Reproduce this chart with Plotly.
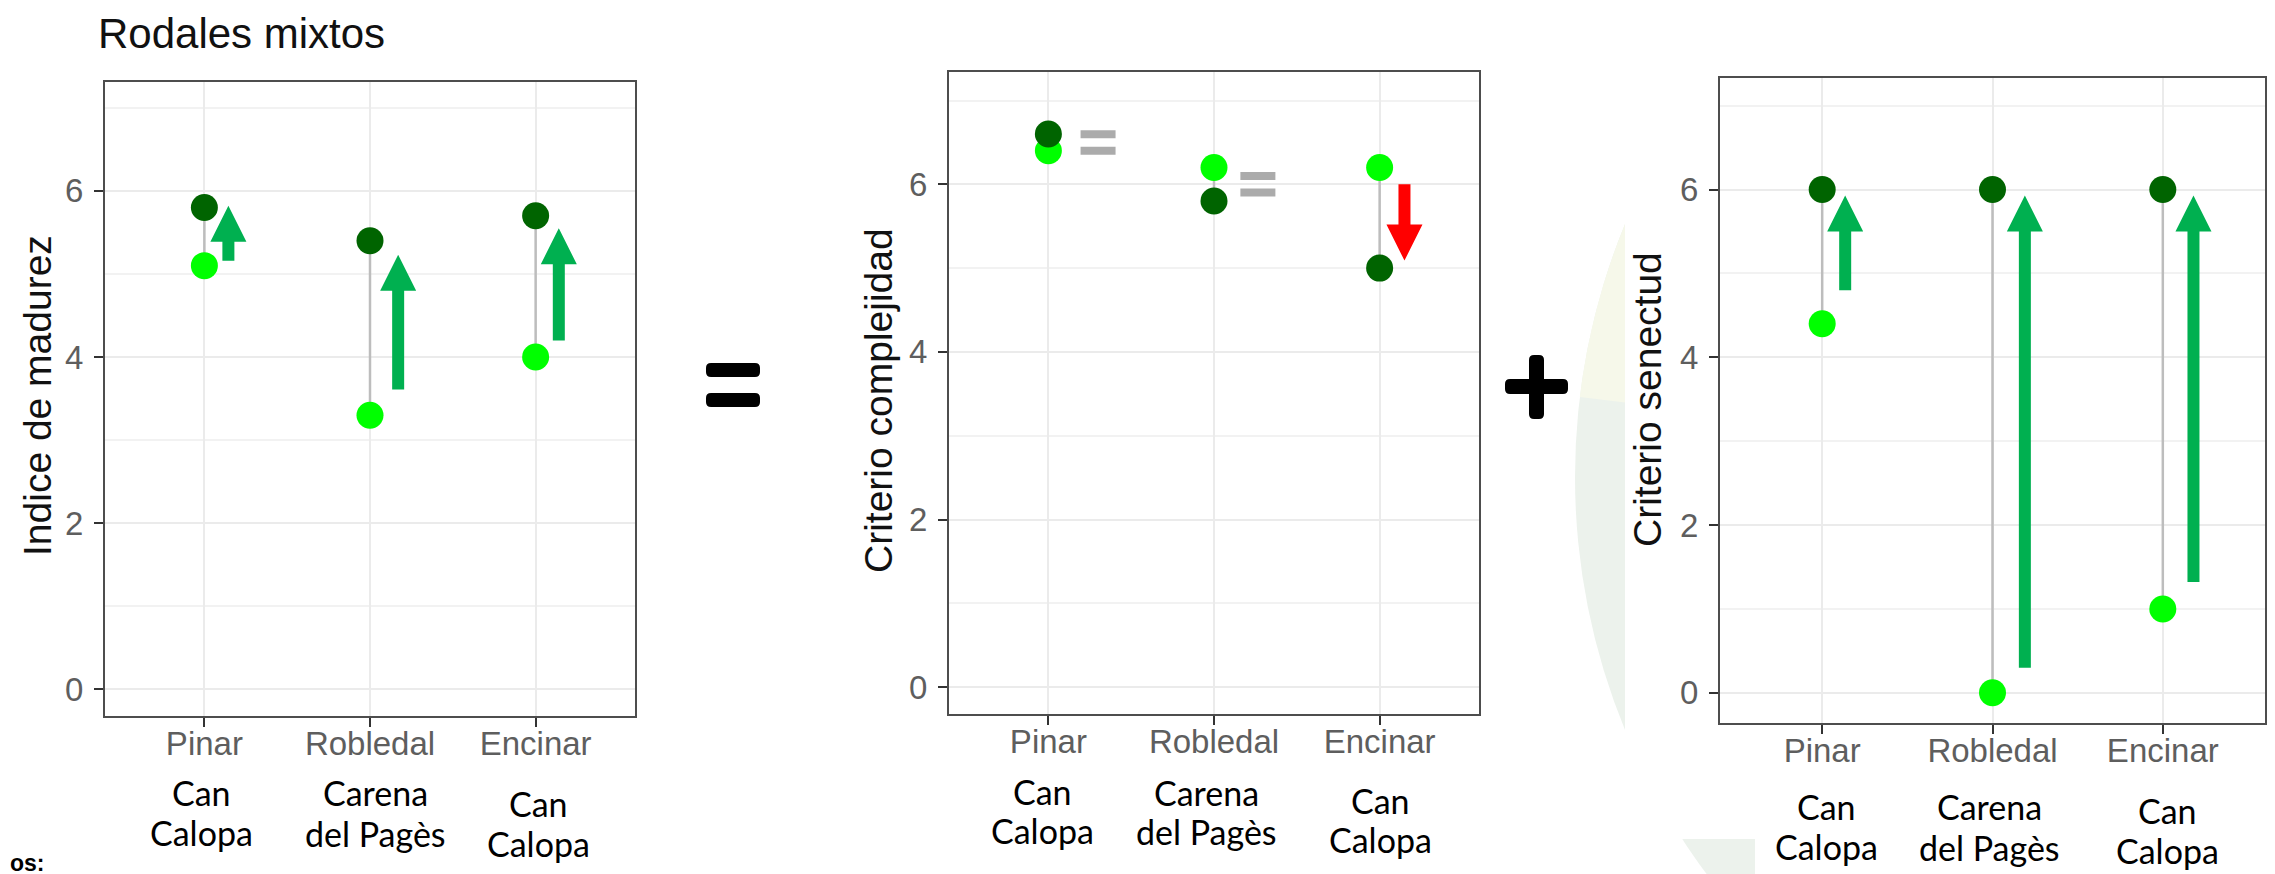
import math
import plotly.graph_objects as go

W, H = 2275, 874

# ---------------- data ----------------
categories = ["Pinar", "Robledal", "Encinar"]
sites_line1 = ["Can", "Carena", "Can"]
sites_line2 = ["Calopa", "del Pagès", "Calopa"]

madurez_antes = [5.1, 3.3, 4.0]        # light green points
madurez_despues = [5.8, 5.4, 5.7]      # dark green points
complejidad_antes = [6.4, 6.2, 6.2]
complejidad_despues = [6.6, 5.8, 5.0]
senectud_antes = [4.4, 0.0, 1.0]
senectud_despues = [6.0, 6.0, 6.0]

# change arrows: x position (category units), start value, end value
arrows1_x = [1.145, 2.17, 3.14]
arrows1_start = [5.16, 3.61, 4.20]
arrows1_end = [5.82, 5.23, 5.55]

arrows2_x = [3.15]
arrows2_start = [6.0]
arrows2_end = [5.09]

equal2_x = [1.30, 2.265]
equal2_y = [6.50, 6.00]

arrows3_x = [1.135, 2.19, 3.18]
arrows3_start = [4.80, 0.30, 1.32]
arrows3_end = [5.93, 5.93, 5.93]

y_titles = ["Indice de madurez", "Criterio complejidad", "Criterio senectud"]

# ---------------- layout geometry (pixels) ----------------
panels = [
    dict(x0=97, x1=627, top=74, bottom=708, yr=[-0.32, 7.31], tx=29, ty=388,
         lab_x=[193, 367, 530], lab_y1=[794, 794, 805], lab_y2=[834, 835, 845]),
    dict(x0=941, x1=1471, top=64, bottom=706, yr=[-0.32, 7.34], tx=870, ty=392,
         lab_x=[1034, 1199, 1372], lab_y1=[793, 794, 802], lab_y2=[832, 833, 841]),
    dict(x0=1712, x1=2257, top=70, bottom=715, yr=[-0.36, 7.33], tx=1639, ty=392,
         lab_x=[1818, 1981, 2159], lab_y1=[808, 808, 812], lab_y2=[848, 849, 852]),
]
XR = [0.4, 3.6]
ANN_SHIFT = 0.28   # annotation box-middle vs. cap-centre correction (em)

LIGHT = "#00FF00"
DARK = "#006400"
ARROW_GREEN = "#00B050"
ARROW_RED = "#FF0000"
SEG = "#BDBDBD"
GRID = "#EBEBEB"
GRID_MINOR = "#F2F2F2"
TICKFONT = dict(family="Liberation Sans, Arial, sans-serif", size=33, color="#5E5E5E")
SITE_SIZE = 34


def px(x):
    return x / W


def py(y):
    return 1 - y / H


fig = go.Figure()
shapes = []
annotations = []

series = [
    (madurez_antes, madurez_despues),
    (complejidad_antes, complejidad_despues),
    (senectud_antes, senectud_despues),
]

for k, p in enumerate(panels):
    sfx = "" if k == 0 else str(k + 1)
    xname, yname = "x" + sfx, "y" + sfx
    antes, despues = series[k]
    xs = [i + 1 for i in range(len(categories))]

    # connecting segments
    sx, sy = [], []
    for x, a, b in zip(xs, antes, despues):
        sx += [x, x, None]
        sy += [a, b, None]
    fig.add_trace(go.Scatter(x=sx, y=sy, mode="lines", line=dict(color=SEG, width=2.5),
                             xaxis=xname, yaxis=yname, showlegend=False, hoverinfo="skip"))
    fig.add_trace(go.Scatter(x=xs, y=antes, mode="markers",
                             marker=dict(size=27, color=LIGHT, line=dict(width=0)),
                             xaxis=xname, yaxis=yname, showlegend=False, hoverinfo="skip"))
    fig.add_trace(go.Scatter(x=xs, y=despues, mode="markers",
                             marker=dict(size=27, color=DARK, line=dict(width=0)),
                             xaxis=xname, yaxis=yname, showlegend=False, hoverinfo="skip"))

    fig.layout["xaxis" + sfx] = dict(
        domain=[px(p["x0"]), px(p["x1"])], range=XR, anchor=yname,
        tickmode="array", tickvals=xs, ticktext=categories,
        showgrid=True, gridcolor=GRID, gridwidth=2, zeroline=False,
        showline=True, mirror=True, linecolor="#4D4D4D", linewidth=2,
        ticks="outside", ticklen=9, tickwidth=2, tickcolor="#333333",
        tickfont=TICKFONT, ticklabelstandoff=-12, fixedrange=True,
    )
    fig.layout["yaxis" + sfx] = dict(
        domain=[py(p["bottom"]), py(p["top"])], range=p["yr"], anchor=xname,
        tick0=0, dtick=2,
        showgrid=True, gridcolor=GRID, gridwidth=2, zeroline=False,
        minor=dict(tick0=0, dtick=1, showgrid=True, gridcolor=GRID_MINOR, gridwidth=1.5, ticks=""),
        showline=True, mirror=True, linecolor="#4D4D4D", linewidth=2,
        ticks="outside", ticklen=9, tickwidth=2, tickcolor="#333333",
        tickfont=TICKFONT, ticklabelstandoff=4, fixedrange=True,
    )

    # y title
    annotations.append(dict(
        text=y_titles[k], x=px(p["tx"]), y=py(p["ty"]), xref="paper", yref="paper",
        xanchor="center", yanchor="middle", textangle=-90, showarrow=False,
        font=dict(family="Liberation Sans, Arial, sans-serif", size=39, color="#111111")))

    # site labels (two lines each)
    for i in range(len(categories)):
        for txt, yy in ((sites_line1[i], p["lab_y1"][i]), (sites_line2[i], p["lab_y2"][i])):
            annotations.append(dict(
                text=txt, x=px(p["lab_x"][i]), y=py(yy - ANN_SHIFT * SITE_SIZE),
                xref="paper", yref="paper",
                xanchor="center", yanchor="middle", showarrow=False, align="center",
                font=dict(family="Lato, Carlito, sans-serif", size=SITE_SIZE, color="#000000")))

# ---------------- arrows & equal marks built from data ----------------
HEAD_LEN = 36.0
HEAD_HALF = 18.0
SHAFT_HALF = 6.0


def arrow_path(p, x, y0, y1):
    ppx = (p["x1"] - p["x0"]) / (XR[1] - XR[0])
    ppy = (p["bottom"] - p["top"]) / (p["yr"][1] - p["yr"][0])
    d = 1 if y1 > y0 else -1
    yb = y1 - d * HEAD_LEN / ppy
    sw = SHAFT_HALF / ppx
    hw = HEAD_HALF / ppx
    pts = [(x - sw, y0), (x + sw, y0), (x + sw, yb), (x + hw, yb), (x, y1), (x - hw, yb), (x - sw, yb)]
    return "M " + " L ".join(f"{a:.5f},{b:.5f}" for a, b in pts) + " Z"


arrow_sets = [
    (0, arrows1_x, arrows1_start, arrows1_end, ARROW_GREEN),
    (1, arrows2_x, arrows2_start, arrows2_end, ARROW_RED),
    (2, arrows3_x, arrows3_start, arrows3_end, ARROW_GREEN),
]
for k, axs, ys0, ys1, col in arrow_sets:
    sfx = "" if k == 0 else str(k + 1)
    for x, a, b in zip(axs, ys0, ys1):
        shapes.append(dict(type="path", path=arrow_path(panels[k], x, a, b),
                           xref="x" + sfx, yref="y" + sfx, fillcolor=col,
                           line=dict(width=0), layer="above"))

p2 = panels[1]
ppx2 = (p2["x1"] - p2["x0"]) / (XR[1] - XR[0])
ppy2 = (p2["bottom"] - p2["top"]) / (p2["yr"][1] - p2["yr"][0])
for x, y in zip(equal2_x, equal2_y):
    for off in (+8.25, -8.25):
        yc = y + off / ppy2
        shapes.append(dict(type="rect", xref="x2", yref="y2",
                           x0=x - 17.5 / ppx2, x1=x + 17.5 / ppx2,
                           y0=yc - 4 / ppy2, y1=yc + 4 / ppy2,
                           fillcolor="#ABABAB", line=dict(width=0), layer="above"))

# ---------------- decorations (paper, pixel based) ----------------


def rrect(x0, y0, x1, y1, r, color):
    def P(a, b):
        return f"{px(a):.6f},{py(b):.6f}"
    path = (f"M {P(x0 + r, y0)} L {P(x1 - r, y0)} Q {P(x1, y0)} {P(x1, y0 + r)} "
            f"L {P(x1, y1 - r)} Q {P(x1, y1)} {P(x1 - r, y1)} "
            f"L {P(x0 + r, y1)} Q {P(x0, y1)} {P(x0, y1 - r)} "
            f"L {P(x0, y0 + r)} Q {P(x0, y0)} {P(x0 + r, y0)} Z")
    return dict(type="path", path=path, xref="paper", yref="paper",
                fillcolor=color, line=dict(width=0), layer="above")


# background circle (slide decoration)
cx, cy, R = 2232, 469, 665
bg_shapes = [dict(type="circle", xref="paper", yref="paper",
                  x0=px(cx - R), x1=px(cx + R), y0=py(cy + R), y1=py(cy - R),
                  fillcolor="#ECF2EC", line=dict(width=0), layer="below")]
pts = [(cx, cy)]
for t in range(0, 41):
    ang = math.radians(173.1 - t * (173.1 - 95) / 40)
    pts.append((cx + R * math.cos(ang), cy - R * math.sin(ang)))
wedge = "M " + " L ".join(f"{px(a):.6f},{py(b):.6f}" for a, b in pts) + " Z"
bg_shapes.append(dict(type="path", path=wedge, xref="paper", yref="paper",
                      fillcolor="#F6F8EA", line=dict(width=0), layer="below"))
bg_shapes.append(dict(type="rect", xref="paper", yref="paper", x0=px(1617), x1=1,
                      y0=py(831), y1=1, fillcolor="white", line=dict(width=0), layer="below"))
bg_shapes.append(dict(type="rect", xref="paper", yref="paper", x0=px(1747), x1=1,
                      y0=0, y1=py(831), fillcolor="white", line=dict(width=0), layer="below"))

ops = [
    rrect(698, 355, 752, 369, 5, "#000000"),
    rrect(698, 385, 752, 399, 5, "#000000"),
    rrect(1521, 347, 1536, 411, 5, "#000000"),
    rrect(1497, 371, 1560, 386, 5, "#000000"),
]

annotations.append(dict(text="Rodales mixtos", x=px(88), y=1, xref="paper", yref="paper",
                        xanchor="left", yanchor="top", height=46, valign="middle",
                        showarrow=False,
                        font=dict(family="Liberation Sans, Arial, sans-serif", size=42, color="#111111")))
annotations.append(dict(text="<b>os:</b>", x=0, y=py(855), xref="paper", yref="paper",
                        xanchor="left", yanchor="middle", showarrow=False,
                        font=dict(family="Liberation Sans, Arial, sans-serif", size=23, color="#000000")))

fig.update_layout(
    width=W, height=H, margin=dict(l=0, r=0, t=0, b=0),
    paper_bgcolor="white", plot_bgcolor="white",
    showlegend=False, hovermode=False,
    shapes=bg_shapes + shapes + ops,
    annotations=annotations,
)

fig.write_html("out.html", config={"displayModeBar": False})
